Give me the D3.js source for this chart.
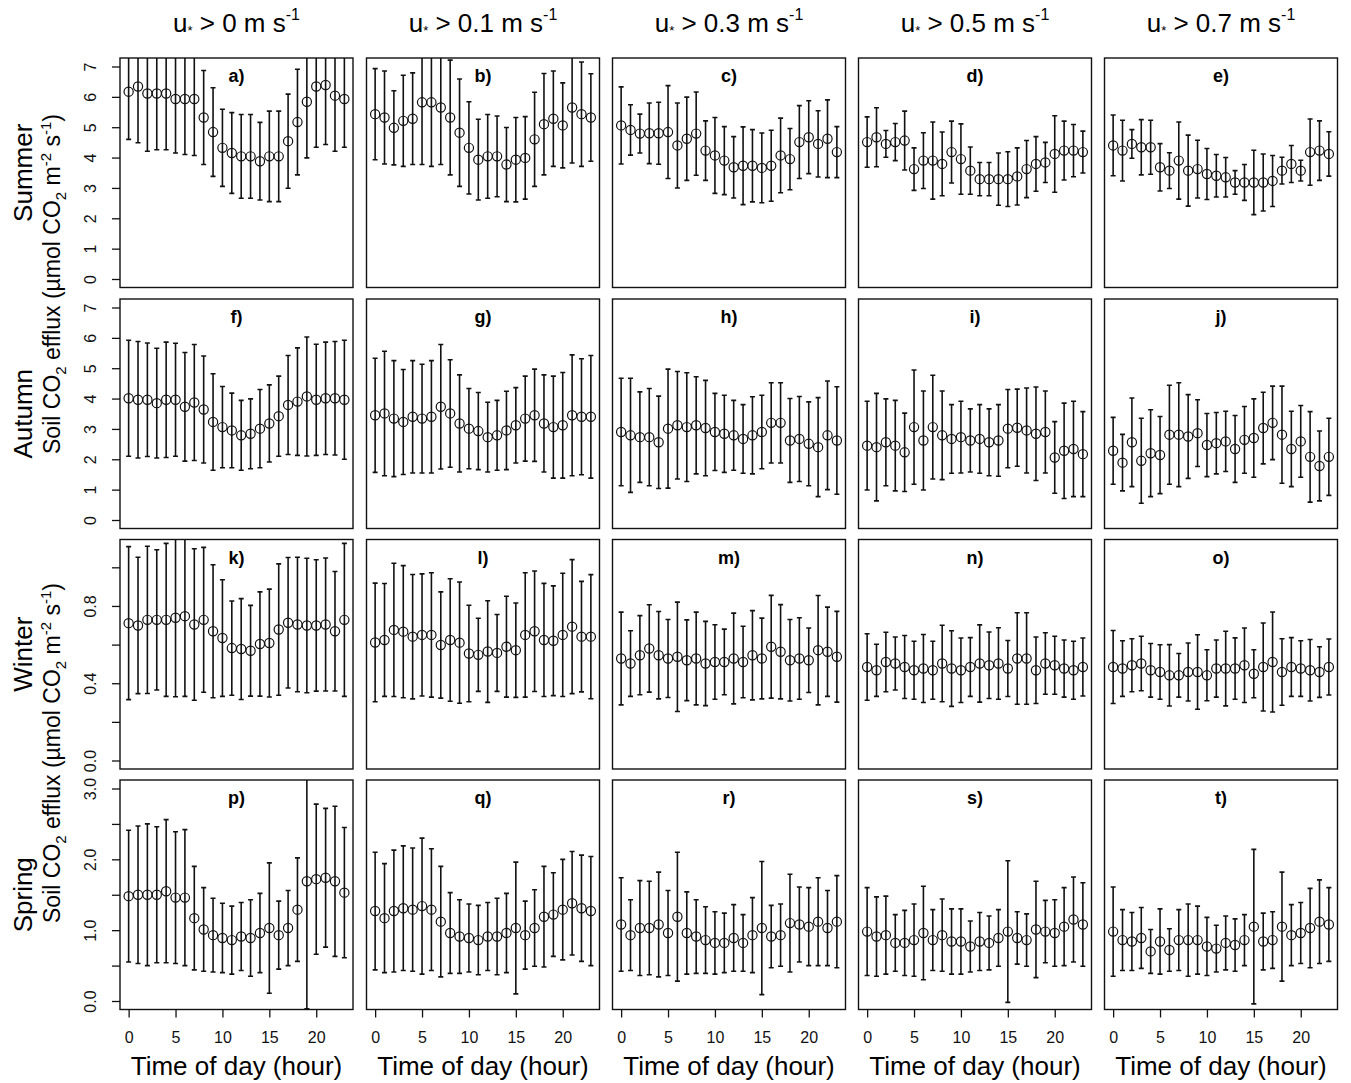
<!DOCTYPE html>
<html>
<head>
<meta charset="utf-8">
<script src="https://cdn.jsdelivr.net/npm/d3@7/dist/d3.min.js"></script>
<style>
body{margin:0;background:#fff;}
svg{display:block;font-family:"Liberation Sans",Arial,sans-serif;}
</style>
</head>
<body>
<div id="chart"></div>
<script>
// hour of day on the x axis
var hours = [0,1,2,3,4,5,6,7,8,9,10,11,12,13,14,15,16,17,18,19,20,21,22,23];

var seasons = ["Summer", "Autumn", "Winter", "Spring"];
var thresholds = ["0", "0.1", "0.3", "0.5", "0.7"];
var letters = ["a","b","c","d","e","f","g","h","i","j","k","l","m","n","o","p","q","r","s","t"];

// y limits and ticks, one per season row
var yLimits = [[0, 7], [0, 7], [0, 1.1], [0, 3]];
var yTicks = [[0,1,2,3,4,5,6,7], [0,1,2,3,4,5,6,7], [0,0.2,0.4,0.6,0.8,1.0], [0,0.5,1.0,1.5,2.0,2.5,3.0]];
var yTickLabels = [["0","1","2","3","4","5","6","7"], ["0","1","2","3","4","5","6","7"],
                   ["0.0","","0.4","","0.8",""], ["0.0","","1.0","","2.0","","3.0"]];
var xTicks = [0, 5, 10, 15, 20];

// Summer
var meanA = [6.17,6.34,6.11,6.11,6.11,5.93,5.93,5.93,5.32,4.84,4.32,4.15,4.04,4.04,3.88,4.04,4.04,4.54,5.17,5.84,6.34,6.39,6.04,5.93];
var sdA   = [1.57,1.85,1.90,1.85,1.85,1.78,1.83,1.86,1.55,1.46,1.27,1.33,1.38,1.38,1.28,1.49,1.49,1.55,1.74,1.85,2.00,1.96,1.83,1.59];
var meanB = [5.43,5.32,4.98,5.21,5.28,5.82,5.82,5.65,5.32,4.82,4.32,3.93,4.04,4.04,3.77,3.93,3.99,4.60,5.10,5.28,5.06,5.65,5.43,5.32];
var sdB   = [1.50,1.53,1.22,1.50,1.51,2.05,2.11,1.88,1.89,1.77,1.52,1.33,1.38,1.33,1.22,1.39,1.36,1.55,1.67,1.57,1.40,1.83,1.72,1.44];
var meanC = [5.06,4.91,4.79,4.80,4.80,4.84,4.40,4.62,4.79,4.23,4.07,3.90,3.68,3.73,3.73,3.66,3.73,4.07,3.95,4.51,4.67,4.45,4.62,4.18];
var sdC   = [1.27,0.83,0.64,1.00,1.02,1.53,1.40,1.37,1.37,0.98,1.25,1.12,1.01,1.28,1.19,1.15,1.17,1.23,1.01,1.20,1.20,1.09,1.28,0.84];
var meanD = [4.51,4.67,4.45,4.51,4.56,3.62,3.90,3.90,3.79,4.18,3.95,3.57,3.29,3.29,3.29,3.29,3.38,3.62,3.79,3.84,4.12,4.23,4.23,4.18];
var sdD   = [0.83,0.97,0.44,0.61,0.97,0.70,0.92,1.27,1.05,1.02,1.16,0.78,0.55,0.55,0.86,0.90,0.94,0.94,0.90,0.66,1.26,0.97,0.86,0.69];
var meanE = [4.40,4.23,4.45,4.34,4.34,3.68,3.57,3.90,3.57,3.62,3.46,3.40,3.35,3.18,3.18,3.18,3.18,3.23,3.57,3.79,3.57,4.18,4.23,4.12];
var sdE   = [1.00,1.00,0.47,0.91,0.89,0.78,0.59,1.27,1.17,0.95,0.84,0.70,0.65,0.39,0.59,1.06,0.94,0.84,0.44,0.61,0.34,1.09,0.98,0.73];
// Autumn
var meanF = [4.01,3.96,3.96,3.85,3.96,3.96,3.73,3.87,3.64,3.23,3.06,2.95,2.79,2.84,3.01,3.18,3.42,3.79,3.90,4.07,3.96,4.01,4.01,3.96];
var sdF   = [1.91,1.92,1.87,1.81,1.90,1.86,1.79,1.91,1.76,1.59,1.34,1.23,1.15,1.15,1.29,1.27,1.32,1.63,1.77,1.96,1.83,1.85,1.87,1.96];
var meanG = [3.45,3.51,3.34,3.23,3.40,3.34,3.40,3.73,3.51,3.18,3.01,2.93,2.73,2.79,2.95,3.12,3.34,3.45,3.18,3.06,3.12,3.45,3.40,3.40];
var sdG   = [1.88,2.05,1.91,1.73,1.85,1.79,1.85,2.05,1.77,1.60,1.32,1.27,1.15,1.15,1.29,1.24,1.40,1.52,1.60,1.68,1.74,1.99,1.91,2.02];
var meanH = [2.90,2.79,2.73,2.73,2.56,3.01,3.12,3.06,3.12,3.03,2.90,2.84,2.79,2.67,2.79,2.90,3.20,3.20,2.62,2.67,2.51,2.40,2.79,2.62];
var sdH   = [1.77,1.88,1.49,1.60,1.52,1.96,1.77,1.79,1.60,1.57,1.27,1.27,1.15,1.13,1.27,1.21,1.32,1.32,1.38,1.40,1.38,1.63,1.79,1.77];
var meanI = [2.45,2.40,2.56,2.45,2.23,3.06,2.62,3.06,2.79,2.67,2.73,2.62,2.67,2.56,2.62,3.01,3.04,2.95,2.84,2.90,2.06,2.28,2.34,2.17];
var sdI   = [1.46,1.77,1.43,1.49,1.29,1.88,1.63,1.71,1.46,1.13,1.18,1.04,1.13,1.10,1.18,1.29,1.27,1.40,1.54,1.35,1.18,1.57,1.57,1.40];
var meanJ = [2.28,1.89,2.56,1.95,2.20,2.14,2.81,2.81,2.75,2.86,2.47,2.53,2.59,2.34,2.64,2.70,3.03,3.20,2.81,2.34,2.59,2.08,1.78,2.08];
var sdJ   = [1.10,0.93,1.46,1.40,1.43,1.27,1.63,1.71,1.38,1.10,1.04,1.01,0.99,1.10,1.10,1.29,1.18,1.21,1.60,1.24,1.18,1.49,1.15,1.27];
// Winter
var meanK = [0.711,0.699,0.728,0.728,0.728,0.739,0.747,0.704,0.728,0.669,0.634,0.582,0.577,0.568,0.603,0.608,0.678,0.713,0.704,0.699,0.699,0.704,0.669,0.728];
var sdK   = [0.396,0.353,0.381,0.363,0.396,0.409,0.415,0.392,0.375,0.344,0.302,0.244,0.261,0.235,0.270,0.279,0.340,0.338,0.348,0.348,0.340,0.344,0.309,0.396];
var meanL = [0.611,0.624,0.676,0.667,0.641,0.650,0.650,0.598,0.624,0.610,0.554,0.547,0.564,0.557,0.589,0.571,0.650,0.669,0.624,0.620,0.650,0.693,0.641,0.641];
var sdL   = [0.307,0.292,0.345,0.342,0.322,0.316,0.322,0.275,0.317,0.314,0.250,0.189,0.263,0.199,0.261,0.244,0.322,0.312,0.293,0.284,0.319,0.347,0.286,0.321];
var meanM = [0.528,0.502,0.545,0.580,0.545,0.528,0.537,0.519,0.528,0.502,0.510,0.510,0.528,0.510,0.545,0.528,0.589,0.563,0.519,0.528,0.519,0.571,0.563,0.537];
var sdM   = [0.240,0.170,0.205,0.226,0.226,0.202,0.283,0.209,0.240,0.218,0.193,0.170,0.235,0.185,0.231,0.209,0.266,0.244,0.211,0.211,0.167,0.283,0.231,0.235];
var meanN = [0.484,0.467,0.510,0.502,0.484,0.467,0.476,0.467,0.502,0.476,0.467,0.484,0.502,0.493,0.502,0.476,0.528,0.528,0.467,0.502,0.493,0.476,0.467,0.484];
var sdN   = [0.172,0.135,0.154,0.137,0.163,0.150,0.176,0.150,0.198,0.196,0.167,0.152,0.200,0.172,0.185,0.145,0.237,0.237,0.172,0.159,0.150,0.148,0.150,0.150];
var meanO = [0.484,0.476,0.493,0.502,0.467,0.458,0.441,0.441,0.458,0.458,0.441,0.476,0.476,0.476,0.493,0.449,0.484,0.510,0.458,0.484,0.476,0.467,0.458,0.484];
var sdO   = [0.189,0.144,0.137,0.141,0.139,0.141,0.159,0.113,0.150,0.193,0.132,0.148,0.193,0.159,0.193,0.124,0.228,0.259,0.172,0.152,0.144,0.159,0.131,0.145];
// Spring
var meanP = [1.48,1.50,1.50,1.50,1.55,1.46,1.46,1.17,1.01,0.93,0.89,0.86,0.91,0.89,0.96,1.03,0.93,1.03,1.29,1.69,1.72,1.74,1.69,1.53];
var sdP   = [0.93,0.97,1.00,0.96,1.01,0.93,0.96,0.73,0.59,0.52,0.49,0.48,0.48,0.54,0.56,0.92,0.48,0.53,0.73,1.80,1.06,0.98,1.06,0.92];
var meanQ = [1.27,1.17,1.27,1.31,1.29,1.34,1.29,1.12,0.96,0.91,0.89,0.86,0.91,0.91,0.96,1.03,0.93,1.03,1.19,1.22,1.29,1.38,1.31,1.27];
var sdQ   = [0.83,0.77,0.86,0.88,0.87,0.96,0.86,0.78,0.57,0.52,0.48,0.49,0.48,0.54,0.56,0.93,0.48,0.54,0.71,0.59,0.71,0.73,0.75,0.77];
var meanR = [1.08,0.93,1.03,1.03,1.08,0.96,1.19,0.96,0.91,0.86,0.82,0.82,0.89,0.82,0.93,1.03,0.91,0.93,1.10,1.08,1.05,1.12,1.03,1.12];
var sdR   = [0.66,0.50,0.67,0.66,0.74,0.60,0.91,0.58,0.52,0.47,0.44,0.42,0.47,0.40,0.53,0.94,0.44,0.44,0.69,0.53,0.55,0.62,0.53,0.65];
var meanS = [0.98,0.91,0.93,0.82,0.82,0.86,0.96,0.86,0.93,0.84,0.84,0.77,0.84,0.82,0.89,0.98,0.89,0.86,1.01,0.98,0.96,1.05,1.15,1.08];
var sdS   = [0.62,0.56,0.55,0.40,0.46,0.51,0.66,0.43,0.51,0.46,0.46,0.36,0.41,0.38,0.40,1.00,0.37,0.37,0.68,0.44,0.47,0.55,0.60,0.59];
var meanT = [0.98,0.86,0.84,0.89,0.70,0.84,0.72,0.86,0.86,0.86,0.77,0.74,0.82,0.79,0.86,1.05,0.84,0.86,1.05,0.93,0.96,1.03,1.12,1.08];
var sdT   = [0.63,0.43,0.41,0.43,0.31,0.46,0.30,0.43,0.51,0.48,0.41,0.33,0.38,0.37,0.36,1.09,0.40,0.40,0.77,0.43,0.43,0.56,0.59,0.52];

var means = [meanA,meanB,meanC,meanD,meanE,meanF,meanG,meanH,meanI,meanJ,
             meanK,meanL,meanM,meanN,meanO,meanP,meanQ,meanR,meanS,meanT];
var sds   = [sdA,sdB,sdC,sdD,sdE,sdF,sdG,sdH,sdI,sdJ,
             sdK,sdL,sdM,sdN,sdO,sdP,sdQ,sdR,sdS,sdT];

var width = 1351, height = 1083;
var colLeft = [120, 366.5, 612.5, 858.5, 1104.5], panelW = 233;
var rowTop = [58, 299, 539.5, 780], panelH = 229.5;

var svg = d3.select("#chart").append("svg")
    .attr("width", width)
    .attr("height", height);

// column titles: u* > x m s-1
thresholds.forEach(function(t, c) {
    var txt = svg.append("text")
        .attr("x", colLeft[c] + panelW / 2)
        .attr("y", 32)
        .attr("text-anchor", "middle")
        .attr("font-size", 26);
    txt.append("tspan").text("u");
    txt.append("tspan").attr("font-size", 13).attr("dy", 3).text("*");
    txt.append("tspan").attr("dy", -3).text(" > " + t + " m s");
    txt.append("tspan").attr("font-size", 16).attr("dy", -12).text("-1");
});

// season names on the left
seasons.forEach(function(s, r) {
    svg.append("text")
        .attr("transform", "translate(32," + (rowTop[r] + panelH / 2) + ") rotate(-90)")
        .attr("text-anchor", "middle")
        .attr("font-size", 26)
        .text(s);
});

// y axis titles, one for each pair of rows
[284, 753].forEach(function(cy) {
    var t = svg.append("text")
        .attr("transform", "translate(60," + cy + ") rotate(-90)")
        .attr("text-anchor", "middle")
        .attr("font-size", 23);
    t.append("tspan").text("Soil CO");
    t.append("tspan").attr("font-size", 15).attr("dy", 6).text("2");
    t.append("tspan").attr("dy", -6).text(" efflux (\u00b5mol CO");
    t.append("tspan").attr("font-size", 15).attr("dy", 6).text("2");
    t.append("tspan").attr("dy", -6).text(" m");
    t.append("tspan").attr("font-size", 15).attr("dy", -9).text("-2");
    t.append("tspan").attr("dy", 9).text(" s");
    t.append("tspan").attr("font-size", 15).attr("dy", -9).text("-1");
    t.append("tspan").attr("dy", 9).text(")");
});

var defs = svg.append("defs");

means.forEach(function(mean, k) {
    var r = Math.floor(k / 5), c = k % 5;
    var left = colLeft[c], top = rowTop[r];
    var lim = yLimits[r], ext = (lim[1] - lim[0]) * 0.04;

    var x = d3.scaleLinear().domain([-0.92, 23.92]).range([left, left + panelW]);
    var y = d3.scaleLinear().domain([lim[0] - ext, lim[1] + ext]).range([top + panelH, top]);

    var rows = hours.map(function(h, i) {
        return {hour: h, mean: mean[i], sd: sds[k][i]};
    });

    defs.append("clipPath").attr("id", "clip" + k)
        .append("rect")
        .attr("x", left).attr("y", top)
        .attr("width", panelW).attr("height", panelH);

    var g = svg.append("g");
    var bars = g.append("g").attr("clip-path", "url(#clip" + k + ")")
        .attr("stroke", "#111").attr("stroke-width", 1.6).attr("fill", "none");

    var bar = bars.selectAll("g.bar").data(rows).enter().append("g").attr("class", "bar");
    bar.append("line")
        .attr("x1", function(d) { return x(d.hour); })
        .attr("x2", function(d) { return x(d.hour); })
        .attr("y1", function(d) { return y(d.mean - d.sd); })
        .attr("y2", function(d) { return y(d.mean + d.sd); });
    bar.append("line")
        .attr("x1", function(d) { return x(d.hour) - 2.5; })
        .attr("x2", function(d) { return x(d.hour) + 2.5; })
        .attr("y1", function(d) { return y(d.mean - d.sd); })
        .attr("y2", function(d) { return y(d.mean - d.sd); });
    bar.append("line")
        .attr("x1", function(d) { return x(d.hour) - 2.5; })
        .attr("x2", function(d) { return x(d.hour) + 2.5; })
        .attr("y1", function(d) { return y(d.mean + d.sd); })
        .attr("y2", function(d) { return y(d.mean + d.sd); });
    bar.append("circle")
        .attr("cx", function(d) { return x(d.hour); })
        .attr("cy", function(d) { return y(d.mean); })
        .attr("r", 4.6)
        .attr("stroke-width", 1.2);

    g.append("rect")
        .attr("x", left).attr("y", top)
        .attr("width", panelW).attr("height", panelH)
        .attr("fill", "none").attr("stroke", "#111").attr("stroke-width", 1.4);

    g.append("text")
        .attr("x", left + panelW / 2)
        .attr("y", top + 24)
        .attr("text-anchor", "middle")
        .attr("font-size", 18)
        .attr("font-weight", "bold")
        .text(letters[k] + ")");

    if (c === 0) {
        var ya = g.append("g")
            .attr("transform", "translate(" + left + ",0)")
            .call(d3.axisLeft(y).tickValues(yTicks[r]).tickSize(8)
                .tickFormat(function(d, i) { return yTickLabels[r][i]; }));
        ya.select(".domain").remove();
        ya.selectAll("line").attr("stroke", "#111").attr("stroke-width", 1.3);
        ya.selectAll("text")
            .attr("x", null).attr("dy", null)
            .attr("transform", "translate(-24,0) rotate(-90)")
            .attr("text-anchor", "middle")
            .attr("font-size", 16)
            .attr("font-family", "Liberation Sans, Arial, sans-serif")
            .attr("fill", "#111");
    }

    if (r === 3) {
        var xa = g.append("g")
            .attr("transform", "translate(0," + (top + panelH) + ")")
            .call(d3.axisBottom(x).tickValues(xTicks).tickSize(8).tickPadding(14));
        xa.select(".domain").remove();
        xa.selectAll("line").attr("stroke", "#111").attr("stroke-width", 1.3);
        xa.selectAll("text")
            .attr("font-size", 16)
            .attr("font-family", "Liberation Sans, Arial, sans-serif")
            .attr("fill", "#111");
        g.append("text")
            .attr("x", left + panelW / 2)
            .attr("y", top + panelH + 65)
            .attr("text-anchor", "middle")
            .attr("font-size", 26)
            .text("Time of day (hour)");
    }
});
</script>
</body>
</html>
